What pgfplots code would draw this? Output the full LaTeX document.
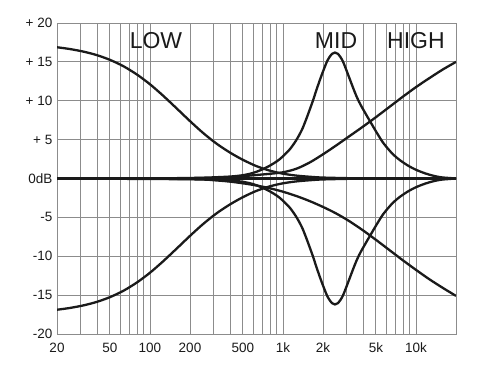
\documentclass[border=0pt]{standalone}
\usepackage{pgfplots}
\pgfplotsset{compat=1.18}
\usepackage{fontspec}
\setmainfont{Liberation Sans}
\definecolor{gridc}{HTML}{8C8C8C}
\definecolor{curvec}{HTML}{1A1A1A}
\begin{document}
\begin{tikzpicture}[crv/.style={curvec, line width=2.3bp, smooth, no marks, solid}]
\useasboundingbox (-57bp,-34bp) rectangle (427bp,334bp);
\begin{axis}[
  at={(0,0)}, anchor=south west,
  scale only axis, width=399bp, height=311bp,
  xmode=log, xmin=20, xmax=20000, ymin=-20, ymax=20,
  xtick={20,50,100,200,500,1000,2000,5000,10000},
  xticklabels={20,50,100,200,500,1k,2k,5k,10k},
  minor xtick={30,40,60,70,80,90,300,400,600,700,800,900,3000,4000,6000,7000,8000,9000},
  ytick={-20,-15,...,20},
  yticklabels={-20,-15,-10,-5,0dB,+ 5,+ 10,+ 15,+ 20},
  xmajorgrids, xminorgrids, ymajorgrids,
  grid style={gridc, line width=0.9bp},
  minor grid style={gridc, line width=0.9bp},
  axis line style={gridc, line width=0.9bp},
  major tick length=0pt, minor tick length=0pt,
  tick label style={font=\fontsize{13.5bp}{14bp}\selectfont, text=curvec},
  xticklabel style={anchor=north, inner sep=0pt, yshift=-9bp},
  yticklabel style={anchor=east, inner sep=0pt, xshift=-4.5bp},
]
\addplot[curvec, line width=2.8bp, sharp plot, no marks, solid] coordinates {(20,0) (20000,0)};
% low boost
\addplot[crv] coordinates {(20,16.88) (25,16.65) (32,16.30) (40,15.86) (50,15.26) (63,14.45) (80,13.36) (100,12.12) (125,10.68) (160,8.96) (200,7.38) (250,5.88) (315,4.51) (400,3.33) (500,2.4) (630,1.6) (800,1.0) (1000,0.62) (1250,0.38) (1600,0.22) (2000,0.12) (3150,0.04) (5000,0) (20000,0)};
% low cut
\addplot[crv] coordinates {(20,-16.88) (25,-16.65) (32,-16.30) (40,-15.86) (50,-15.26) (63,-14.45) (80,-13.36) (100,-12.12) (125,-10.68) (160,-8.96) (200,-7.38) (250,-5.88) (315,-4.51) (400,-3.33) (500,-2.4) (630,-1.6) (800,-1.0) (1000,-0.62) (1250,-0.38) (1600,-0.22) (2000,-0.12) (3150,-0.04) (5000,0) (20000,0)};
% mid boost
\addplot[crv] coordinates {(20,0) (123,0.03) (246,0.1) (399,0.25) (511,0.45) (604,0.75) (706,1.2) (815,1.75) (940,2.45) (1099,3.55) (1178,4.2) (1250,4.85) (1321,5.55) (1400,6.4) (1493,7.6) (1589,8.85) (1683,10.05) (1782,11.35) (1866,12.35) (1954,13.3) (2046,14.2) (2143,15.05) (2244,15.65) (2350,16.05) (2460,16.2) (2576,16.05) (2698,15.65) (2825,15.05) (2958,14.2) (3097,13.3) (3243,12.4) (3396,11.5) (3556,10.65) (3724,9.9) (3899,9.25) (4083,8.65) (4276,8.05) (4519,7.35) (4909,6.3) (5260,5.45) (5662,4.6) (6180,3.8) (6776,3.05) (7586,2.35) (8730,1.65) (10069,1.1) (11776,0.65) (13520,0.35) (15524,0.15) (18239,0.05) (20000,0)};
% mid cut
\addplot[crv] coordinates {(20,0) (123,-0.03) (246,-0.1) (399,-0.25) (511,-0.45) (604,-0.75) (706,-1.2) (815,-1.75) (940,-2.45) (1099,-3.55) (1178,-4.2) (1250,-4.85) (1321,-5.55) (1400,-6.4) (1493,-7.6) (1589,-8.85) (1683,-10.05) (1782,-11.35) (1866,-12.35) (1954,-13.3) (2046,-14.2) (2143,-15.05) (2244,-15.65) (2350,-16.05) (2460,-16.2) (2576,-16.05) (2698,-15.65) (2825,-15.05) (2958,-14.2) (3097,-13.3) (3243,-12.4) (3396,-11.5) (3556,-10.65) (3724,-9.9) (3899,-9.25) (4083,-8.65) (4276,-8.05) (4519,-7.35) (4909,-6.3) (5260,-5.45) (5662,-4.6) (6180,-3.8) (6776,-3.05) (7586,-2.35) (8730,-1.65) (10069,-1.1) (11776,-0.65) (13520,-0.35) (15524,-0.15) (18239,-0.05) (20000,0)};
% high boost
\addplot[crv] coordinates {(20,0) (200,0.04) (398,0.15) (501,0.3) (631,0.45) (794,0.6) (1000,0.8) (1259,1.25) (1585,2.05) (1995,3.1) (2512,4.25) (3162,5.45) (3981,6.65) (5012,7.9) (6310,9.2) (7943,10.5) (10000,11.75) (12589,12.9) (15849,14.0) (20000,15.0)};
% high cut
\addplot[crv] coordinates {(20,0) (200,-0.1) (316,-0.25) (398,-0.4) (501,-0.62) (631,-0.9) (794,-1.25) (1000,-1.7) (1259,-2.25) (1585,-2.9) (1995,-3.65) (2512,-4.5) (3162,-5.5) (3981,-6.65) (5012,-7.9) (6310,-9.2) (7943,-10.5) (10000,-11.75) (12589,-12.95) (15849,-14.05) (20000,-15.1)};
\node[font=\fontsize{23bp}{24bp}\selectfont, text=curvec] at (axis cs:111,17.8) {LOW};
\node[font=\fontsize{23bp}{24bp}\selectfont, text=curvec] at (axis cs:2506,17.8) {MID};
\node[font=\fontsize{23bp}{24bp}\selectfont, text=curvec] at (axis cs:10000,17.8) {HIGH};
\end{axis}
\end{tikzpicture}
\end{document}
